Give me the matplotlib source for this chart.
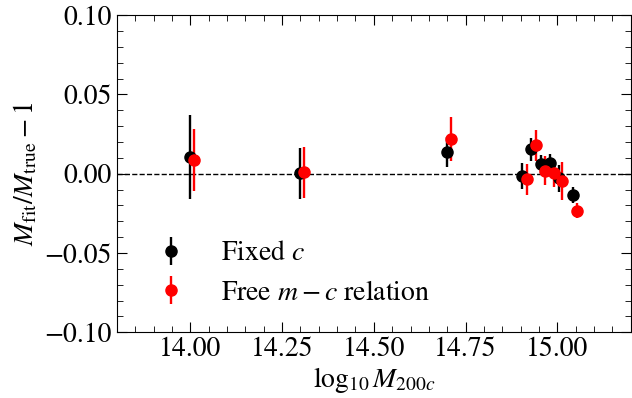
import numpy as np
import matplotlib
matplotlib.use("Agg")
from matplotlib import pyplot as plt
from matplotlib.ticker import MultipleLocator, FormatStrFormatter, FuncFormatter

# log10 M200c of each halo bin, fixed-c fit
logm_fixed = [14.00, 14.30, 14.70, 14.903, 14.928, 14.955, 14.980, 15.004, 15.043]
bias_fixed = [0.0107, 0.0002, 0.0135, -0.0015, 0.0153, 0.0060, 0.0065, -0.0030, -0.0135]
err_fixed = [0.0265, 0.0162, 0.0095, 0.0080, 0.0070, 0.0060, 0.0062, 0.0085, 0.0050]

# free m-c relation fit (plotted slightly offset in x)
logm_free = [14.009, 14.311, 14.709, 14.916, 14.942, 14.966, 14.991, 15.012, 15.054]
bias_free = [0.0086, 0.0008, 0.0218, -0.0036, 0.0178, 0.0020, 0.0002, -0.0045, -0.0234]
err_free = [0.0195, 0.0160, 0.0138, 0.0098, 0.0100, 0.0090, 0.0085, 0.0120, 0.0048]

plt.rcParams['font.family'] = 'STIXGeneral'
plt.rcParams['mathtext.fontset'] = 'stix'
plt.rcParams['font.size'] = 20

fig = plt.figure(figsize=(6.32, 3.98), dpi=100)
ax = fig.add_axes([0.185, 0.165, 0.813, 0.797])

ax.axhline(0, color='k', ls='--', lw=1.0)
ax.errorbar(logm_fixed, bias_fixed, yerr=err_fixed, fmt='o', color='k',
            ms=8, elinewidth=1.7, capsize=0, label='Fixed $c$')
ax.errorbar(logm_free, bias_free, yerr=err_free, fmt='o', color='r',
            ms=8, elinewidth=1.7, capsize=0, label='Free $m-c$ relation')

ax.set_xlim(13.8, 15.2)
ax.set_ylim(-0.1, 0.1)
ax.xaxis.set_major_locator(MultipleLocator(0.25))
ax.xaxis.set_minor_locator(MultipleLocator(0.05))
ax.yaxis.set_major_locator(MultipleLocator(0.05))
ax.yaxis.set_minor_locator(MultipleLocator(0.01))
ax.tick_params(which='both', direction='in', top=True, right=True)
ax.tick_params(which='major', length=7)
ax.tick_params(which='minor', length=4)
ax.xaxis.set_major_formatter(FormatStrFormatter('%.2f'))
ax.yaxis.set_major_formatter(FuncFormatter(
    lambda v, p: ('%.2f' % v).replace('-', '\u2212')))

ax.set_xlabel(r'$\log_{10}M_{200c}$', labelpad=2)
ax.set_ylabel(r'$M_{\rm fit}/M_{\rm true}-1$', labelpad=4)

ax.legend(loc='lower left', bbox_to_anchor=(0.03, 0.005), frameon=False,
          fontsize=20, handlelength=1.0, handletextpad=1.3, labelspacing=0.5)

fig.savefig('out.png', dpi=100)
